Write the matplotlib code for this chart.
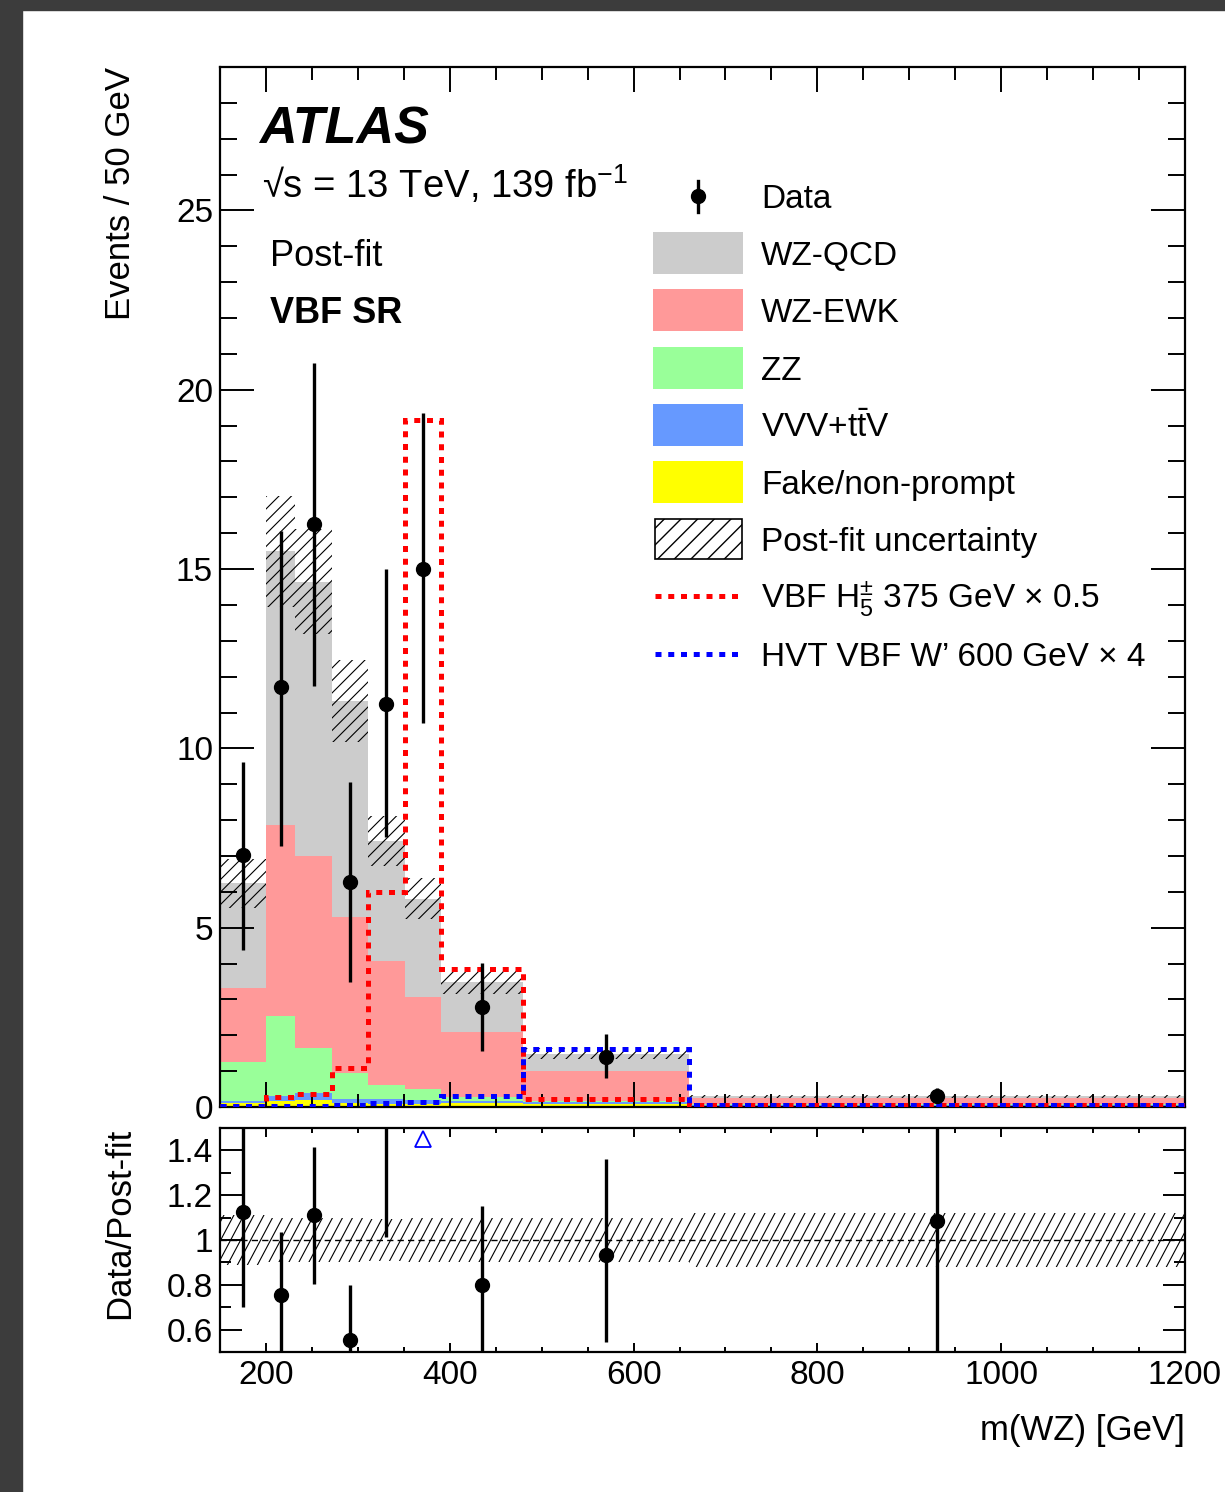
import numpy as np
import matplotlib
matplotlib.use("Agg")
import matplotlib.pyplot as plt
from matplotlib.patches import Polygon, Rectangle
from matplotlib.collections import LineCollection
from matplotlib.lines import Line2D
from matplotlib.ticker import MultipleLocator, FixedLocator, FixedFormatter

plt.rcParams['font.family'] = ['Liberation Sans', 'DejaVu Sans']
plt.rcParams['mathtext.fontset'] = 'custom'
plt.rcParams['mathtext.rm'] = 'Liberation Sans'
plt.rcParams['mathtext.it'] = 'Liberation Sans:italic'
plt.rcParams['mathtext.bf'] = 'Liberation Sans:bold'

# m(WZ) binning [GeV], contents in events / 50 GeV
edges = np.array([150, 200, 232, 272, 311, 351, 391, 480, 660, 1200])

fake = np.array([0.10, 0.17, 0.20, 0.10, 0.08, 0.08, 0.10, 0.09, 0.03])
vvv_ttv = np.array([0.06, 0.13, 0.20, 0.11, 0.13, 0.11, 0.07, 0.05, 0.02])
zz = np.array([1.10, 2.23, 1.25, 0.74, 0.39, 0.31, 0.10, 0.04, 0.03])
wz_ewk = np.array([2.06, 5.34, 5.35, 4.35, 3.47, 2.57, 1.83, 0.82, 0.18])
wz_qcd = np.array([2.92, 7.63, 7.65, 6.02, 3.35, 2.74, 1.39, 0.49, 0.035])
unc_rel = np.array([0.11, 0.10, 0.10, 0.10, 0.095, 0.10, 0.10, 0.10, 0.12])

data = np.array([7.02, 11.70, 16.27, 6.27, 11.25, 15.01, 2.79, 1.39, 0.32])
data_err_lo = np.array([2.65, 4.42, 4.52, 2.79, 3.72, 4.31, 1.23, 0.58, 0.20])
data_err_hi = np.array([2.59, 4.37, 4.48, 2.78, 3.75, 4.35, 1.23, 0.64, 0.20])

sig_h5 = np.array([0.02, 0.29, 0.35, 1.10, 6.00, 19.15, 3.86, 0.21, 0.05])
sig_wprime = np.array([0.03, 0.03, 0.03, 0.05, 0.10, 0.15, 0.30, 1.63, 0.05])

components = [
    (fake, '#ffff00', 'Fake/non-prompt'),
    (vvv_ttv, '#6699ff', r'VVV+t$\bar{\mathrm{t}}$V'),
    (zz, '#99ff99', 'ZZ'),
    (wz_ewk, '#ff9999', 'WZ-EWK'),
    (wz_qcd, '#cccccc', 'WZ-QCD'),
]

W, H = 1225, 1492
fig = plt.figure(figsize=(W / 100, H / 100), dpi=100)


def fx(px):
    return px / W


def fy(py):
    return 1 - py / H


def box(left, top, right, bottom):
    return [fx(left), fy(bottom), (right - left) / W, (bottom - top) / H]


# dark frame strips along the left and top edge
fig.patches.append(Rectangle((0, 0), fx(22), 1, transform=fig.transFigure,
                             color='#3c3c3c', zorder=-10))
fig.patches.append(Rectangle((0, fy(10)), 1, 10 / H, transform=fig.transFigure,
                             color='#3c3c3c', zorder=-10))

ax = fig.add_axes(box(220, 67, 1185, 1107))
rax = fig.add_axes(box(220, 1128, 1185, 1352))


def add_hatch(axis, lo, hi, step, angle):
    """Draw '/' hatching between two step curves."""
    xs = np.repeat(edges, 2)[1:-1]
    verts = np.column_stack([np.r_[xs, xs[::-1]],
                             np.r_[np.repeat(hi, 2), np.repeat(lo, 2)[::-1]]])
    poly = Polygon(verts, closed=True, transform=axis.transData)
    fw, fh = fig.get_size_inches()
    run = fh / np.tan(np.radians(angle))
    segs = [[(x0, 0), (x0 + run, fh)] for x0 in np.arange(-run, fw, step)]
    lc = LineCollection(segs, colors='black', linewidths=0.8,
                        transform=fig.dpi_scale_trans, zorder=3)
    lc.set_clip_path(poly)
    axis.add_collection(lc, autolim=False)


# stacked backgrounds
bottom = np.zeros(len(data))
for vals, color, _ in components:
    top = bottom + vals
    ax.stairs(top, edges, baseline=bottom, fill=True, color=color, lw=0, zorder=1)
    bottom = top
total = bottom

add_hatch(ax, total * (1 - unc_rel), total * (1 + unc_rel), 0.125, 45)

dots = (0, (1.2, 1.35))
ax.stairs(sig_h5, edges, baseline=None, color='#ff0000', lw=3.6, ls=dots, zorder=4)
ax.stairs(sig_wprime, edges, baseline=None, color='#0000ff', lw=3.6, ls=dots, zorder=4)

centers = 0.5 * (edges[1:] + edges[:-1])
ax.errorbar(centers, data, yerr=[data_err_lo, data_err_hi], fmt='o', color='black',
            ms=10, elinewidth=2.4, capsize=0, zorder=5)

ax.set_xlim(150, 1200)
ax.set_ylim(0, 29)
ax.xaxis.set_major_locator(MultipleLocator(200))
ax.xaxis.set_minor_locator(MultipleLocator(50))
ax.yaxis.set_major_locator(MultipleLocator(5))
ax.yaxis.set_minor_locator(MultipleLocator(1))
ax.tick_params(which='both', direction='in', top=True, right=True, width=1.4,
               labelbottom=False, labelsize=24)
ax.tick_params(axis='y', which='major', length=24.5, pad=5)
ax.tick_params(axis='y', which='minor', length=12)
ax.tick_params(axis='x', which='major', length=18)
ax.tick_params(axis='x', which='minor', length=9.5)

# ratio panel
ratio = data / total
r_lo = ratio - data_err_lo / total
r_hi = ratio + data_err_hi / total
add_hatch(rax, 1 - unc_rel, 1 + unc_rel, 0.10, 62)
rax.axhline(1, color='black', lw=1.0, ls=(0, (4.5, 3)), zorder=4)
rax.vlines(centers, r_lo, r_hi, color='black', lw=2.4, zorder=5)
inside = (ratio > 0.5) & (ratio < 1.5)
rax.plot(centers[inside], ratio[inside], 'o', color='black', ms=10, zorder=6)
above = r_lo > 1.5
rax.plot(centers[above], np.full(above.sum(), 1.45), marker='^', ls='none',
         mfc='none', mec='#0000ff', ms=11, mew=1.3, zorder=6)

rax.set_xlim(150, 1200)
rax.set_ylim(0.5, 1.5)
rax.xaxis.set_major_locator(MultipleLocator(200))
rax.xaxis.set_minor_locator(MultipleLocator(50))
rax.yaxis.set_major_locator(FixedLocator([0.6, 0.8, 1.0, 1.2, 1.4]))
rax.yaxis.set_major_formatter(FixedFormatter(['0.6', '0.8', '1', '1.2', '1.4']))
rax.yaxis.set_minor_locator(MultipleLocator(0.1))
rax.tick_params(which='both', direction='in', top=True, right=True, width=1.4,
                labelsize=24)
rax.tick_params(axis='y', which='major', length=16, pad=5)
rax.tick_params(axis='y', which='minor', length=8)
rax.tick_params(axis='x', which='major', length=6.5, pad=6)
rax.tick_params(axis='x', which='minor', length=3.6)

for a in (ax, rax):
    for sp in a.spines.values():
        sp.set_linewidth(1.6)

# axis titles
fig.text(fx(120), fy(67), 'Events / 50 GeV', rotation=90, ha='center', va='top', fontsize=25)
fig.text(fx(120), fy(1128), 'Data/Post-fit', rotation=90, ha='center', va='top', fontsize=25)
fig.text(fx(1185), fy(1440), 'm(WZ) [GeV]', ha='right', va='baseline', fontsize=25)

# labels
fig.text(fx(259), fy(143), 'ATLAS', fontsize=37.5, fontweight='bold', fontstyle='italic',
         va='baseline')
fig.text(fx(262), fy(198), '√s = 13 TeV, 139 fb$^{-1}$', fontsize=27.5, va='baseline')
fig.text(fx(270), fy(266), 'Post-fit', fontsize=26, va='baseline')
fig.text(fx(270), fy(323), 'VBF SR', fontsize=26, fontweight='bold', va='baseline')

# legend
row_y = [196 + 57.2 * i for i in range(9)]
text_x = 761
leg_size = 24
em = leg_size * 100 / 72


def leg_text(row, label):
    fig.text(fx(text_x), fy(row_y[row] + 0.358 * em), label, fontsize=leg_size,
             va='baseline')


fig.add_artist(Line2D([fx(698), fx(698)], [fy(row_y[0] - 15), fy(row_y[0] + 16)],
                      color='black', lw=2.4, transform=fig.transFigure))
fig.add_artist(Line2D([fx(698)], [fy(row_y[0])], marker='o', ms=10, color='black',
                      transform=fig.transFigure))
leg_text(0, 'Data')

for row, (vals, color, label) in enumerate(components[::-1], start=1):
    fig.patches.append(Rectangle((fx(653), fy(row_y[row] + 21)), 90 / W, 42 / H,
                                 transform=fig.transFigure, facecolor=color,
                                 edgecolor='none'))
    leg_text(row, label)

fig.patches.append(Rectangle((fx(655), fy(row_y[6] + 20)), 87 / W, 40 / H,
                             transform=fig.transFigure, facecolor='none',
                             edgecolor='black', lw=1.2, hatch='//'))
leg_text(6, 'Post-fit uncertainty')

for row, color, label in [(7, '#ff0000', r'VBF H$_5^{\pm}$ 375 GeV × 0.5'),
                          (8, '#0000ff', 'HVT VBF W’ 600 GeV × 4')]:
    fig.add_artist(Line2D([fx(655), fx(742)], [fy(row_y[row])] * 2, color=color,
                          lw=3.6, ls=dots, transform=fig.transFigure))
    leg_text(row, label)

fig.savefig('out.png', dpi=100)
